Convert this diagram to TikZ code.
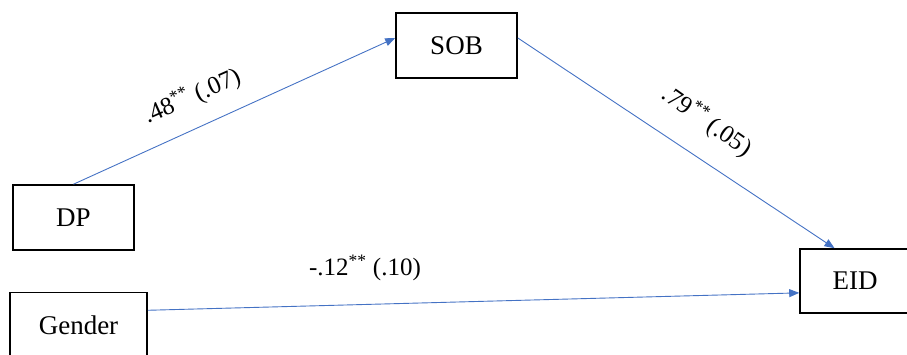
\documentclass[tikz,border=0pt]{standalone}
\usepackage{fontspec}
\setmainfont{Liberation Serif}
\usetikzlibrary{arrows.meta}
\definecolor{arrowblue}{HTML}{4472C4}
\newcommand{\stars}{\textsuperscript{**}}
\begin{document}
\begin{tikzpicture}[x=1pt,y=-1pt,
  varbox/.style={draw=black,line width=1.6pt,fill=white,inner sep=0pt,font=\fontsize{27}{31}\selectfont},
  path/.style={draw=arrowblue,line width=0.9pt,-{Triangle[length=10pt,width=8pt]}},
  coef/.style={font=\fontsize{25}{29}\selectfont,inner sep=0pt}]
\useasboundingbox (0,0) rectangle (907,354);
\node[varbox,minimum width=121pt,minimum height=65pt] (DP) at (73.5,217.5) {DP};
\node[varbox,minimum width=137pt,minimum height=65pt] (G) at (78.5,325) {Gender};
\node[varbox,minimum width=121pt,minimum height=65pt] (SOB) at (456.5,45.5) {SOB};
\node[varbox,minimum width=110pt,minimum height=64pt] (EID) at (855,281) {EID};
\draw[path] (DP.north) -- (SOB.173);
\draw[path] (SOB.7) -- (EID.122);
\draw[path] (G.12) -- (EID.192);
\node[coef,rotate=24] (c1) at (192,96) {.48\stars\ (.07)};
\node[coef,rotate=-35] (c2) at (707,121) {.79\stars\ (.05)};
\node[coef] (c3) at (365,268) {-.12\stars\ (.10)};
\end{tikzpicture}
\end{document}
